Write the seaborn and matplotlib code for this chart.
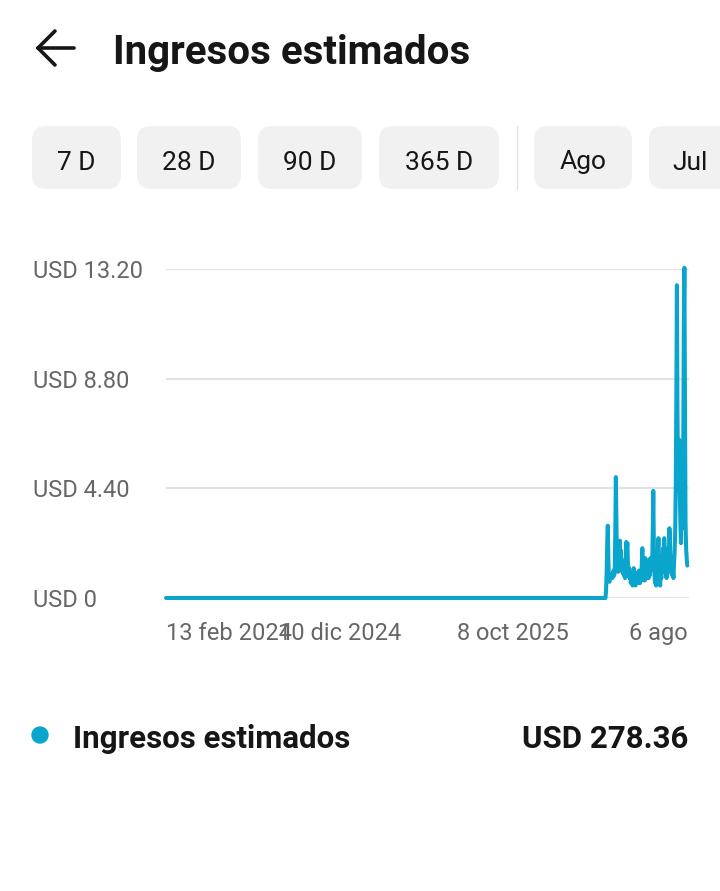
import matplotlib
matplotlib.use('Agg')
import matplotlib.pyplot as plt
from matplotlib.patches import FancyBboxPatch, Circle
from matplotlib.lines import Line2D
import pandas as pd
import seaborn as sns

# --- datos ---
fecha_inicio = '2024-02-13'
fecha_fin = '2026-08-06'
# ingresos diarios desde el 18 mar 2026 hasta el 6 ago 2026 (antes todo es 0)
ingresos_diarios = [
    0.3, 1.0, 2.2, 2.9, 1.6, 0.7, 0.65, 0.9, 0.8, 0.85,
    0.95, 0.8, 0.9, 1.1, 0.9, 1.0, 2.6, 4.85, 3.0, 1.3,
    1.1, 1.05, 1.6, 1.4, 2.3, 1.2, 1.9, 1.1, 1.3, 1.0,
    1.5, 0.9, 1.2, 0.8, 1.1, 2.25, 1.9, 2.2, 1.4, 0.9,
    1.2, 0.8, 1.0, 0.6, 0.9, 0.7, 0.5, 0.9, 1.2, 0.7,
    0.8, 0.5, 1.0, 0.6, 0.9, 0.6, 0.7, 1.1, 0.8, 0.6,
    1.0, 0.7, 1.4, 2.0, 1.1, 0.8, 1.3, 0.7, 1.6, 0.9,
    1.2, 0.8, 1.5, 1.0, 0.8, 1.3, 0.9, 1.6, 1.1, 1.2,
    1.2, 2.6, 4.3, 2.1, 1.0, 0.6, 1.2, 0.5, 1.4, 1.0,
    1.8, 2.4, 1.3, 0.7, 0.5, 1.1, 0.8, 1.6, 1.2, 2.0,
    1.4, 2.4, 1.9, 1.0, 1.3, 0.8, 1.7, 1.2, 2.0, 1.6,
    2.8, 2.3, 1.5, 1.0, 1.2, 0.9, 1.1, 0.8, 1.4, 1.8,
    2.6, 4.5, 8.0, 12.55, 7.5, 4.3, 5.0, 6.35, 4.2, 3.0,
    2.2, 3.5, 4.6, 2.8, 6.0, 11.0, 13.25, 8.0, 3.0, 2.0,
    1.6, 1.3,
]
ticks_x = ['2024-02-13', '2024-12-10', '2025-10-08', '2026-08-06']
etiquetas_x = ['13 feb 2024', '10 dic 2024', '8 oct 2025', '6 ago']
ticks_y = [0, 4.4, 8.8, 13.2]
etiquetas_y = ['USD 0', 'USD 4.40', 'USD 8.80', 'USD 13.20']
botones = ['7 D', '28 D', '90 D', '365 D', 'Ago', 'Jul']
serie = 'Ingresos estimados'
total = 'USD 278.36'

color_linea = '#0aa5cc'
gris_texto = '#666666'
negro = '#161616'

fechas = pd.date_range(fecha_inicio, fecha_fin, freq='D')
valores = [0.0] * (len(fechas) - len(ingresos_diarios)) + ingresos_diarios
df = pd.DataFrame({'fecha': fechas, 'ingresos': valores})

sns.set_style('white')
plt.rcParams['font.family'] = ['Roboto', 'DejaVu Sans']

W, H = 720, 891
fig = plt.figure(figsize=(W / 100, H / 100), dpi=100)

# capa de fondo en pixeles para la interfaz
bg = fig.add_axes([0, 0, 1, 1])
bg.set_xlim(0, W)
bg.set_ylim(H, 0)
bg.axis('off')

# flecha atras
for x0, y0, x1, y1 in [(38, 48, 74, 48), (38, 48, 55, 31), (38, 48, 55, 65)]:
    bg.add_line(Line2D([x0, x1], [y0, y1], color=negro, lw=2.6, solid_capstyle='round'))
bg.text(113, 49, serie, fontsize=29, fontweight='bold', color=negro, va='center_baseline', ha='left')

# botones de rango
cajas = [(32, 121), (137, 241), (258, 362), (379, 499), (534, 632), (649, 760)]
for (x0, x1), txt in zip(cajas, botones):
    bg.add_patch(FancyBboxPatch((x0, 126), x1 - x0, 63, boxstyle='round,pad=0,rounding_size=14',
                                facecolor='#f1f1f1', edgecolor='none'))
    bg.text((x0 + x1) / 2 if txt != 'Jul' else 672, 160, txt, fontsize=19, color=negro,
            ha='center' if txt != 'Jul' else 'left', va='center_baseline')
bg.add_line(Line2D([517, 517], [126, 189], color='#e2e2e2', lw=1))

# leyenda
bg.add_patch(Circle((40, 735), 8, color=color_linea))
bg.text(73, 736, serie, fontsize=22.5, fontweight='bold', color=negro, va='center_baseline', ha='left')
bg.text(688, 736, total, fontsize=22.5, fontweight='bold', color=negro, va='center_baseline', ha='right')

# grafico
ax = fig.add_axes([166 / W, (H - 598) / H, (689 - 166) / W, 329 / H])
ax.patch.set_alpha(0)
sns.lineplot(data=df, x='fecha', y='ingresos', ax=ax, color=color_linea, lw=2.9, clip_on=False, zorder=3)
ax.set_xlim(pd.Timestamp(fecha_inicio), pd.Timestamp(fecha_fin) + pd.Timedelta(days=3))
ax.set_ylim(0, 13.2)
for v in ticks_y:
    ax.axhline(v, color='#e2e2e2', lw=1.5, zorder=1)
sns.despine(ax=ax, left=True, bottom=True)
ax.set_xlabel('')
ax.set_ylabel('')
ax.set_yticks(ticks_y)
ax.set_yticklabels(etiquetas_y, fontsize=17, color=gris_texto)
ax.tick_params(axis='y', length=0, pad=(166 - 33) * 72 / 100)
for lab in ax.get_yticklabels():
    lab.set_horizontalalignment('left')
ax.set_xticks(pd.to_datetime(ticks_x))
ax.set_xticklabels(etiquetas_x, fontsize=17, color=gris_texto)
ax.tick_params(axis='x', length=0, pad=17)
labs = ax.get_xticklabels()
labs[0].set_horizontalalignment('left')
labs[-1].set_horizontalalignment('right')

fig.savefig('out.png', dpi=100)
